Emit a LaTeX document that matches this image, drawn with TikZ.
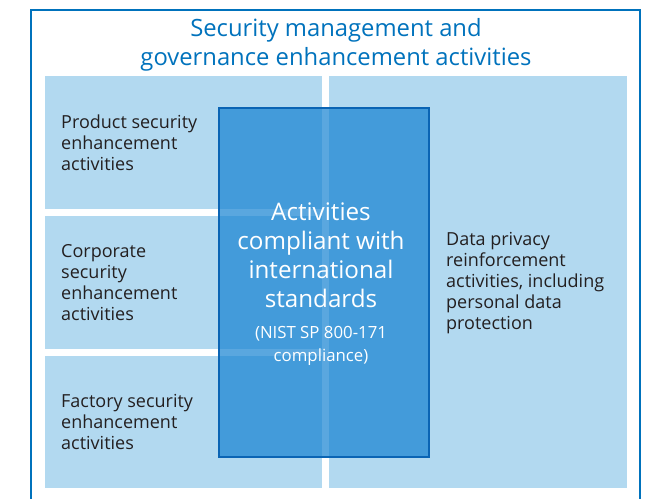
\documentclass[tikz,border=0pt]{standalone}
\usepackage{fontspec}
\setmainfont{Open Sans}
\definecolor{frameblue}{RGB}{0,114,188}
\definecolor{lightbox}{RGB}{178,217,240}
\definecolor{darkfill}{RGB}{20,130,210}
\definecolor{darkedge}{RGB}{10,100,180}
\definecolor{bodytext}{RGB}{35,31,32}
\newcommand{\smallline}{\fontsize{16.8}{22}\selectfont}
\begin{document}
\begin{tikzpicture}[x=1pt,y=-1pt,
  lbox/.style={fill=lightbox,draw=none},
  bodylbl/.style={inner sep=0pt,anchor=west,align=left,text=bodytext,font=\fontsize{18}{21}\selectfont},
  titlelbl/.style={inner sep=0pt,align=center,text=frameblue,font=\fontsize{23.8}{29}\selectfont},
  centerlbl/.style={inner sep=0pt,align=center,text=white,font=\fontsize{24.2}{29}\selectfont}]
\useasboundingbox (0,0) rectangle (650,498);
\begin{scope}
\clip (0,0) rectangle (650,498);
\draw[frameblue,line width=2.5pt] (31,10) rectangle (640,530);
\end{scope}
\node[titlelbl] (title) at (336,45) {Security management and\\governance enhancement activities};
\fill[lbox] (45,76) rectangle (322,209);
\fill[lbox] (45,216) rectangle (322,349);
\fill[lbox] (45,356) rectangle (322,488);
\fill[lbox] (329,76) rectangle (627,488);
\node[bodylbl] (prod) at (61,143) {Product security\\enhancement\\activities};
\node[bodylbl] (corp) at (61,283) {Corporate\\security\\enhancement\\activities};
\node[bodylbl] (fact) at (61,422) {Factory security\\enhancement\\activities};
\node[bodylbl] (priv) at (446,283) {Data privacy\\reinforcement\\activities, including\\personal data\\protection};
\fill[darkfill,fill opacity=0.7] (219,108) rectangle (429,457);
\draw[darkedge,line width=2pt] (219,108) rectangle (429,457);
\node[centerlbl] (comp) at (321,284) {Activities\\compliant with\\international\\standards\\[2pt]\smallline (NIST SP 800-171\\[-6pt]\smallline compliance)};
\end{tikzpicture}
\end{document}
